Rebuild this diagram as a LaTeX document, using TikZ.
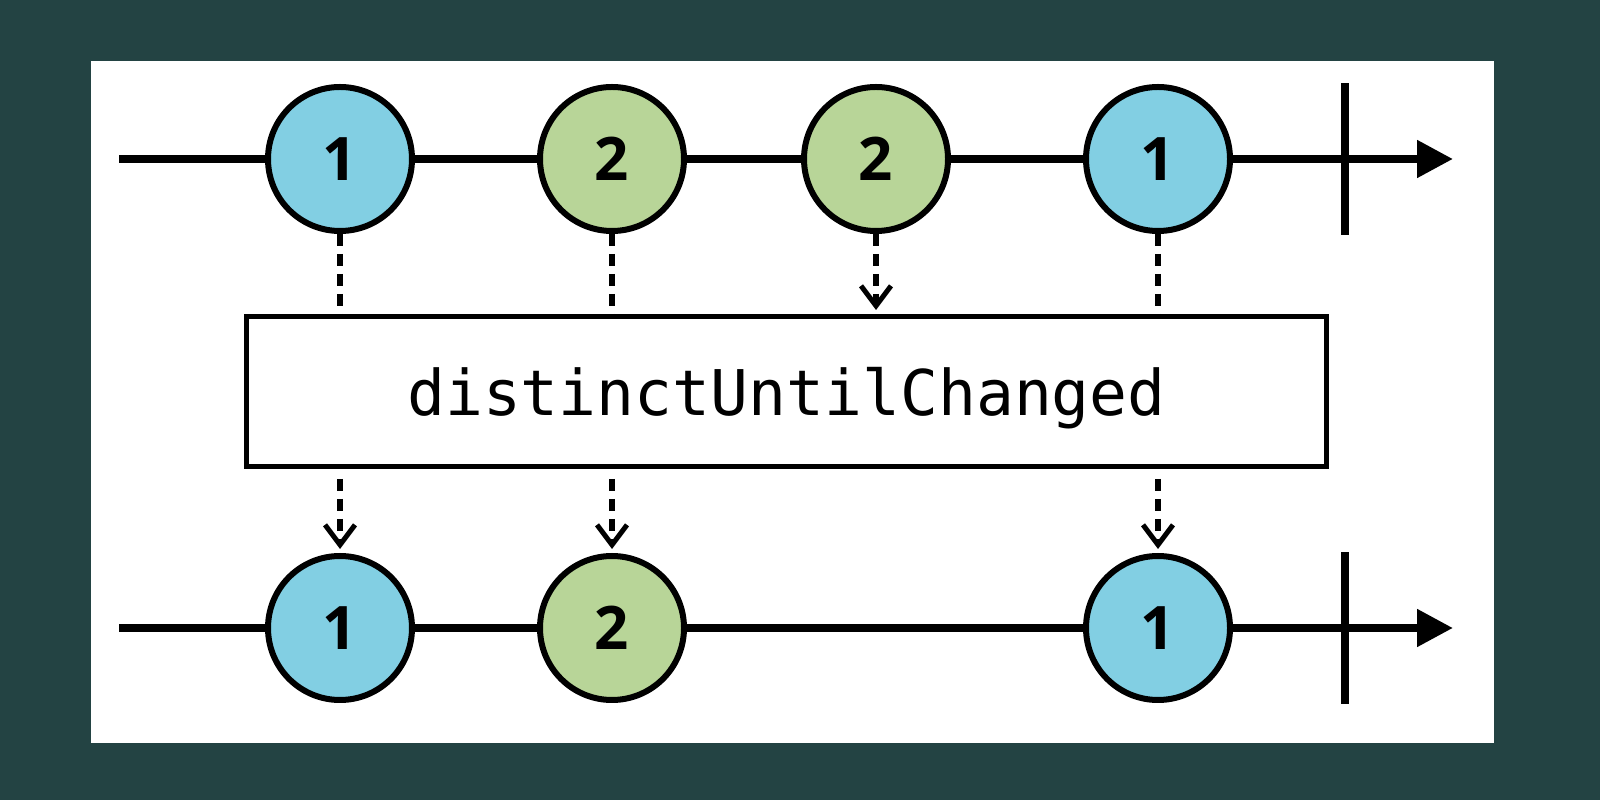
\documentclass[tikz,border=0pt]{standalone}
\usepackage{fontspec}
\setmonofont{DejaVu Sans Mono}
\newfontfamily\ziffern{Open Sans}
\usetikzlibrary{arrows.meta, positioning}
\definecolor{grund}{HTML}{234343}
\definecolor{blau}{HTML}{82CFE3}
\definecolor{gruen}{HTML}{B8D598}

\begin{document}
\begin{tikzpicture}[
    x=1pt, y=1pt,
    achse/.style={line width=8pt, -{Triangle[length=36pt,width=36pt]}},
    strich/.style={line width=8pt},
    kugel/.style={circle, draw, line width=6pt, minimum size=144pt, inner sep=0pt,
                  font=\ziffern\bfseries\fontsize{60}{60}\selectfont},
    fluss/.style={line width=6pt, dash pattern=on 12pt off 8pt},
    fluss pfeil/.style={fluss, shorten >=4pt,
                  -{Straight Barb[length=20pt,width=30pt,line width=5pt]}},
  ]
  \fill[grund] (0,0) rectangle (1600,800);
  \fill[white] (91,57) rectangle (1494,739);

  % Eingabe
  \coordinate (ein start) at (119,641);
  \coordinate (ein ende) at (1453,641);
  \coordinate (ein stop oben) at (1345,717);
  \coordinate (ein stop unten) at (1345,565);
  \draw[achse] (ein start) -- (ein ende);
  \draw[strich] (ein stop unten) -- (ein stop oben);
  \node[kugel, fill=blau]  (e1) at (340,641) {1};
  \node[kugel, fill=gruen] (e2) at (612,641) {2};
  \node[kugel, fill=gruen] (e3) at (876,641) {2};
  \node[kugel, fill=blau]  (e4) at (1158,641) {1};

  % Operator
  \node[draw, line width=5pt, minimum width=1080pt, minimum height=150pt,
        text depth=0pt, font=\ttfamily\fontsize{63}{63}\selectfont]
        (op) at (786.5,408.5) {distinctUntilChanged};

  % Ausgabe
  \coordinate (aus start) at (119,172);
  \coordinate (aus ende) at (1453,172);
  \coordinate (aus stop oben) at (1345,248);
  \coordinate (aus stop unten) at (1345,96);
  \draw[achse] (aus start) -- (aus ende);
  \draw[strich] (aus stop unten) -- (aus stop oben);
  \node[kugel, fill=blau]  (a1) at (340,172) {1};
  \node[kugel, fill=gruen] (a2) at (612,172) {2};
  \node[kugel, fill=blau]  (a4) at (1158,172) {1};

  % Verbindungen
  \foreach \k in {e1, e2, e4} {
    \draw[fluss] (\k) -- (\k |- op.north);
  }
  \draw[fluss pfeil] (e3) -- (e3 |- op.north);
  \foreach \k in {a1, a2, a4} {
    \draw[fluss pfeil, shorten <=10pt] (op.south -| \k) -- (\k);
  }
\end{tikzpicture}
\end{document}
